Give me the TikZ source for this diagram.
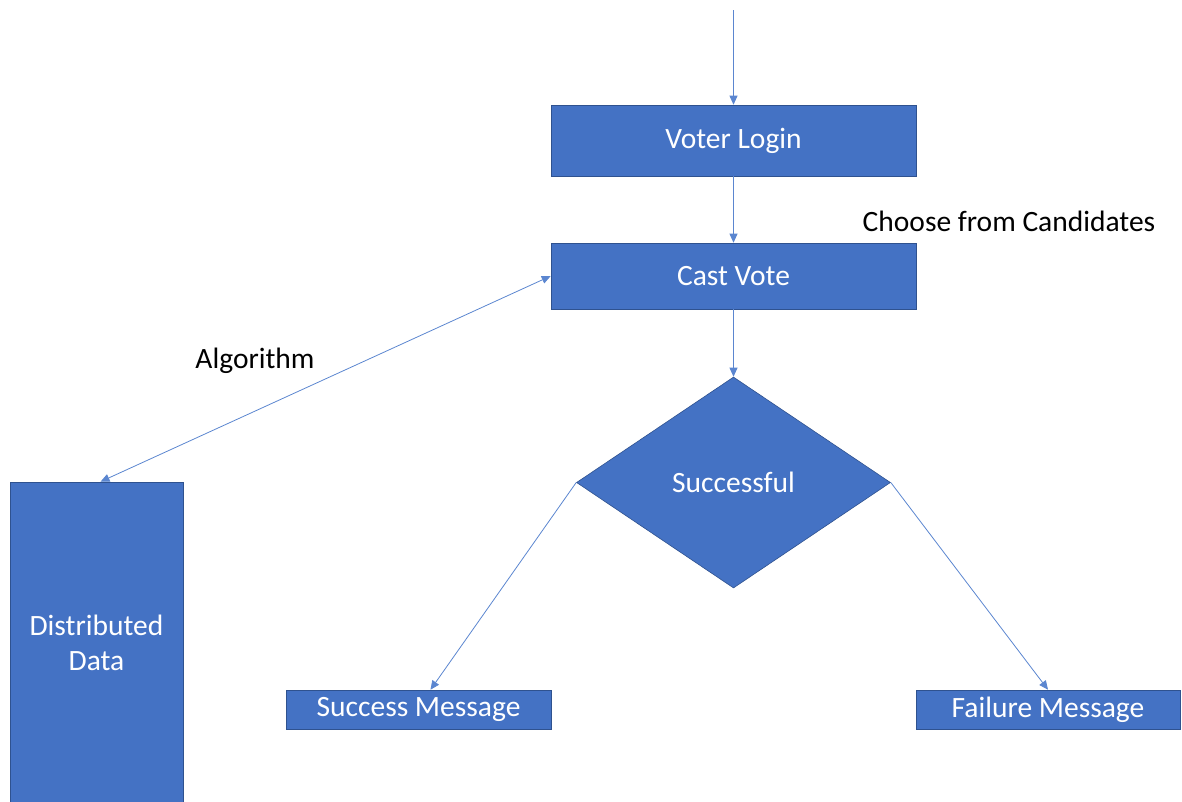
\documentclass[tikz,border=0pt]{standalone}
\usepackage{fontspec}
\setmainfont{Carlito}
\usetikzlibrary{arrows.meta,shapes.geometric,calc}
\definecolor{boxblue}{HTML}{4472C4}
\definecolor{boxedge}{HTML}{2F528F}
\definecolor{lineblue}{HTML}{5B86D0}
\tikzset{
  flowbox/.style={rectangle, fill=boxblue, draw=boxedge, line width=0.6pt, text=white, inner sep=0pt, align=center,
    font=\fontsize{29.5}{35}\selectfont},
  flowdiamond/.style={diamond, fill=boxblue, draw=boxedge, line width=0.6pt, text=white, inner sep=0pt,
    font=\fontsize{29.5}{35}\selectfont},
  conn/.style={draw=lineblue, line width=0.8pt, -{Triangle[length=9pt,width=8pt]}},
  biconn/.style={draw=lineblue, line width=0.8pt, {Triangle[length=9pt,width=8pt]}-{Triangle[length=9pt,width=8pt]}},
  plainlabel/.style={text=black, inner sep=0pt, font=\fontsize{29.5}{35}\selectfont}
}
\begin{document}
\begin{tikzpicture}[x=1pt,y=1pt]
\useasboundingbox (0,0) rectangle (1182,-801);
\node[flowbox, minimum width=365, minimum height=71] (vl) at (733.5,-140.5) {Voter Login};
\node[flowbox, minimum width=365, minimum height=66] (cv) at (733.5,-276) {Cast Vote};
\node[flowdiamond, minimum width=314, minimum height=211] (ok) at (733.5,-482.5) {Successful};
\node[flowbox, minimum width=173, minimum height=322] (dd) at (96.5,-643) {Distributed\\Data};
\node[flowbox, minimum width=265, minimum height=39] (sm) at (418.5,-709.5) {Success Message};
\node[flowbox, minimum width=264, minimum height=39] (fm) at (1048,-709.5) {Failure Message};
\node[plainlabel] (choose) at (1009,-221) {Choose from Candidates};
\node[plainlabel] (algo) at (255,-361) {Algorithm};
\coordinate (start) at (733.5,-10);
\draw[conn] (start) -- (vl.north);
\draw[conn] (vl.south) -- (cv.north);
\draw[conn] (cv.south) -- (ok.north);
\draw[biconn] (cv.west) -- ($(dd.north)+(4,0)$);
\draw[conn] (ok.west) -- ($(sm.north)+(12,0)$);
\draw[conn] (ok.east) -- (fm.north);
\end{tikzpicture}
\end{document}
